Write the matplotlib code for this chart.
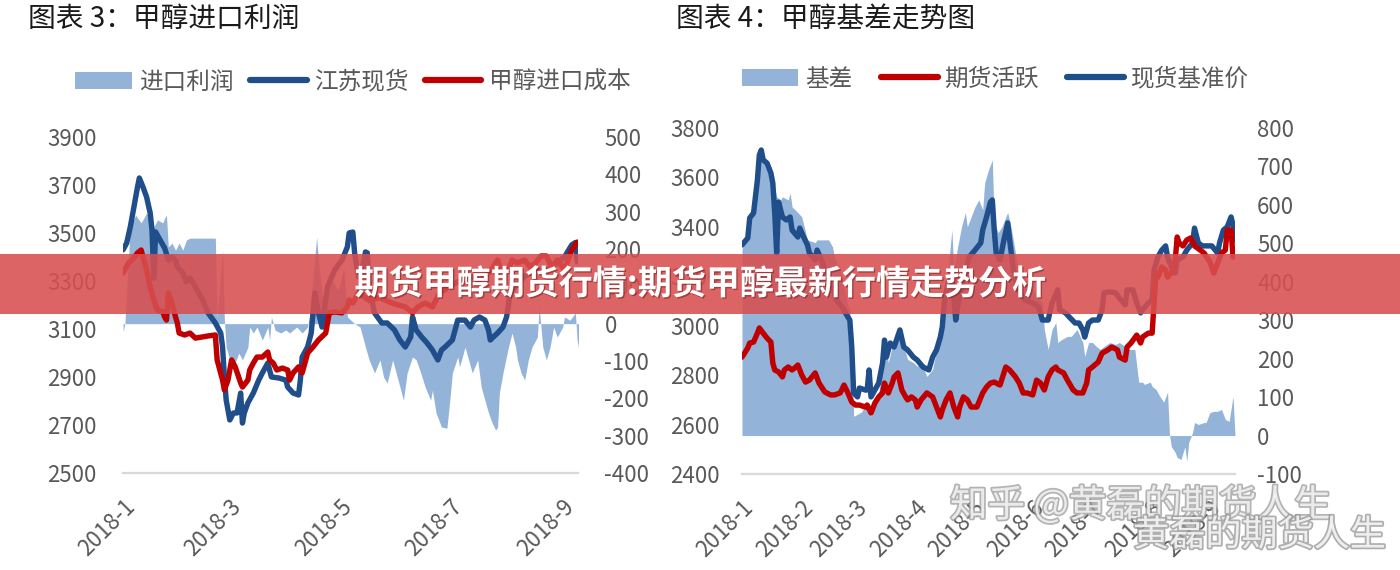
"""
Methanol import profit (chart 3) and methanol basis (chart 4), 2018.
Two dual-axis panels with an overlaid headline banner, saved to out.png.
"""

import matplotlib.patheffects as pe
import matplotlib.pyplot as plt
import numpy as np
import pandas as pd
from matplotlib.lines import Line2D
from matplotlib.patches import Patch, Rectangle

plt.rcParams["font.family"] = ["Noto Sans CJK SC", "DejaVu Sans"]
plt.rcParams["axes.unicode_minus"] = False

BASE = pd.Timestamp("2018-01-01")

# ---- chart 3: import profit (right axis) vs Jiangsu spot / import cost (left axis)
profit_days = [0, 1, 4, 7, 8, 10, 13, 15, 17, 19, 22, 23, 24, 25, 27, 29, 31, 33, 35, 37,
               38, 44, 51, 52, 55, 56, 57, 59, 61, 64, 66, 69, 70, 72, 74, 77, 80, 81, 82, 84,
               87, 90, 92, 96, 99, 102, 103, 105, 107, 108, 110, 112, 115, 119, 122, 124, 128, 131, 134, 136,
               139, 142, 144, 146, 149, 152, 155, 157, 160, 162, 164, 167, 170, 171, 173, 176, 179, 181, 182, 185,
               186, 189, 191, 193, 196, 198, 200, 202, 204, 206, 207, 208, 210, 213, 215, 217, 218, 220, 222, 224,
               226, 229, 230, 232, 234, 236, 238, 240, 243, 244, 247, 250, 251, 252]
import_profit = [-22, 0, 259, 291, 283, 270, 296, 286, 259, 278, 270, 283, 291, 205, 216, 197, 216, 197, 224, 229,
                 229, 229, 229, 18, 197, 9, -63, -97, -116, -79, -97, -63, -9, -25, -9, -44, -9, -44, 18, -17,
                 -25, -17, -25, -9, -25, -9, 18, 125, 232, 170, 82, 60, 120, 90, 150, 18, 0, -9, -63, -97,
                 -132, -97, -143, -159, -97, -151, -205, -132, -89, -97, -124, -170, -205, -178, -239, -277, -280, -186, -132, -89,
                 -116, -63, -97, -132, -97, -170, -205, -239, -266, -285, -277, -186, -132, -63, -25, -63, -97, -132, -151, -97,
                 -63, -36, 45, -63, -97, -63, -9, -36, -9, 18, 9, 29, -44, -70]

spot_js_days = [0, 2, 4, 6, 8, 9, 11, 13, 15, 16, 17, 18, 22, 23, 25, 27, 29, 30, 33, 35,
                37, 40, 44, 47, 51, 54, 55, 56, 57, 59, 61, 63, 65, 66, 67, 69, 72, 75, 77, 80,
                82, 86, 90, 91, 94, 97, 98, 99, 102, 104, 106, 108, 110, 112, 113, 117, 121, 124, 125, 127,
                128, 130, 132, 134, 135, 136, 139, 143, 146, 150, 153, 156, 159, 160, 162, 165, 168, 171, 174, 176,
                178, 182, 185, 189, 192, 194, 197, 200, 202, 203, 204, 207, 210, 212, 214, 217, 222, 228, 233, 239,
                244, 248, 250, 251]
spot_js = [3430, 3458, 3525, 3608, 3692, 3729, 3692, 3650, 3583, 3512, 3312, 3504, 3450, 3437, 3387, 3400, 3387, 3358, 3333, 3296,
           3312, 3275, 3221, 3167, 3125, 3083, 3025, 2900, 2804, 2721, 2750, 2750, 2833, 2708, 2750, 2792, 2833, 2887, 2917, 2958,
           2900, 2896, 2887, 2858, 2833, 2825, 2887, 2983, 3025, 3083, 3250, 3167, 3108, 3221, 3275, 3346, 3387, 3442, 3500, 3504,
           3417, 3317, 3346, 3421, 3417, 3275, 3167, 3125, 3125, 3096, 3054, 3025, 3067, 3150, 3096, 3067, 3042, 3012, 2971, 3012,
           3025, 3054, 3137, 3137, 3108, 3137, 3150, 3137, 3096, 3054, 3062, 3083, 3108, 3150, 3250, 3280, 3320, 3350, 3340, 3370,
           3400, 3450, 3460, 3380]

cost_days = [0, 1, 3, 6, 8, 10, 11, 13, 15, 17, 19, 22, 23, 24, 25, 27, 29, 30, 31, 34,
             37, 40, 44, 47, 51, 52, 55, 56, 58, 60, 62, 65, 66, 69, 70, 72, 74, 77, 80, 81,
             83, 85, 88, 91, 92, 94, 97, 99, 101, 102, 105, 108, 112, 114, 117, 121, 124, 125, 127, 130,
             132, 136, 142, 148, 152, 156, 160, 163, 167, 171, 175, 181, 186, 192, 197, 203, 207, 209, 213, 215,
             218, 222, 225, 228, 231, 234, 237, 240, 244, 248, 251]
import_cost = [3333, 3346, 3375, 3396, 3417, 3429, 3400, 3346, 3275, 3221, 3179, 3171, 3150, 3137, 3250, 3208, 3150, 3125, 3083, 3075,
               3083, 3062, 3067, 3071, 3075, 2971, 2887, 2846, 2887, 2971, 2942, 2875, 2858, 2887, 2929, 2958, 2983, 2983, 3004, 2971,
               2958, 2929, 2937, 2929, 2887, 2917, 2942, 2917, 2971, 3000, 3025, 3054, 3083, 3167, 3171, 3167, 3192, 3221, 3208, 3250,
               3240, 3220, 3230, 3210, 3200, 3192, 3167, 3192, 3208, 3192, 3250, 3280, 3300, 3320, 3300, 3340, 3387, 3346, 3346, 3387,
               3375, 3387, 3358, 3375, 3404, 3404, 3358, 3387, 3346, 3429, 3462]

# ---- chart 4: basis (right axis) vs futures / spot benchmark (left axis)
basis_days = [0, 4, 8, 10, 13, 16, 18, 20, 21, 24, 25, 26, 29, 31, 34, 38, 39, 42, 45, 47,
              48, 51, 53, 55, 56, 57, 58, 62, 65, 67, 69, 71, 73, 74, 76, 78, 80, 82, 84, 86,
              89, 91, 93, 96, 99, 100, 102, 104, 106, 109, 110, 112, 114, 116, 117, 119, 121, 123, 125, 126,
              128, 130, 131, 133, 135, 137, 138, 140, 142, 143, 145, 148, 151, 153, 156, 157, 159, 161, 163, 164,
              166, 169, 171, 174, 177, 178, 180, 182, 184, 186, 188, 191, 194, 196, 199, 201, 204, 206, 208, 209,
              212, 213, 215, 217, 219, 221, 222, 223, 225, 226, 228, 230, 231, 232, 234, 235, 237, 240, 241, 243,
              245, 247, 249, 251, 253, 255, 256]
basis = [484, 561, 657, 730, 699, 665, 621, 613, 621, 613, 631, 595, 580, 569, 509, 502, 509, 509, 509, 491,
         465, 432, 388, 336, 328, 200, 50, 61, 87, 50, 76, 113, 172, 242, 190, 232, 242, 258, 232, 198,
         190, 180, 190, 154, 172, 198, 232, 276, 380, 535, 432, 491, 543, 580, 543, 569, 595, 613, 587, 657,
         691, 717, 553, 528, 543, 569, 580, 535, 476, 450, 432, 398, 380, 362, 346, 276, 224, 276, 294, 242,
         250, 258, 258, 276, 242, 206, 242, 242, 232, 224, 232, 242, 237, 242, 232, 224, 224, 139, 139, 133,
         139, 128, 120, 102, 87, 113, 2, -29, -44, -57, -62, -29, -67, -18, 8, 34, 29, 34, 34, 60,
         63, 63, 68, 42, 37, 102, 2]

futures_days = [0, 3, 4, 6, 8, 9, 11, 13, 15, 16, 17, 19, 21, 22, 24, 26, 28, 29, 31, 33,
                35, 38, 40, 43, 46, 48, 51, 53, 55, 57, 59, 61, 64, 65, 67, 69, 71, 73, 74, 76,
                78, 79, 81, 83, 85, 86, 88, 90, 91, 93, 96, 99, 101, 103, 104, 106, 108, 110, 112, 113,
                115, 117, 119, 122, 125, 127, 129, 131, 134, 137, 139, 142, 144, 146, 148, 151, 153, 155, 157, 159,
                161, 163, 164, 167, 169, 172, 174, 177, 179, 180, 182, 185, 187, 190, 192, 195, 196, 199, 200, 202,
                205, 207, 208, 211, 213, 215, 216, 218, 220, 221, 223, 225, 226, 227, 229, 231, 233, 235, 238, 240,
                243, 245, 247, 249, 251, 252, 254, 255, 256]
futures = [2873, 2910, 2930, 2934, 2970, 2991, 2970, 2950, 2934, 2849, 2821, 2813, 2793, 2821, 2833, 2821, 2833, 2841, 2801, 2772,
           2780, 2809, 2768, 2732, 2720, 2720, 2728, 2760, 2728, 2691, 2679, 2679, 2671, 2679, 2647, 2687, 2712, 2728, 2768, 2728,
           2768, 2793, 2809, 2740, 2712, 2700, 2712, 2700, 2671, 2700, 2728, 2712, 2671, 2631, 2659, 2700, 2728, 2671, 2631, 2671,
           2712, 2700, 2671, 2671, 2728, 2752, 2768, 2772, 2760, 2833, 2821, 2793, 2768, 2728, 2728, 2720, 2780, 2768, 2740, 2793,
           2821, 2833, 2821, 2809, 2780, 2740, 2728, 2728, 2768, 2821, 2833, 2853, 2889, 2902, 2914, 2902, 2873, 2861, 2914, 2930,
           2962, 2930, 2954, 2970, 2970, 3213, 3197, 3238, 3225, 3197, 3213, 3266, 3359, 3335, 3323, 3347, 3355, 3323, 3306, 3294,
           3258, 3213, 3254, 3294, 3306, 3387, 3387, 3278, 3278]

spot_ref_days = [0, 3, 4, 6, 8, 9, 10, 11, 13, 15, 16, 17, 18, 19, 21, 23, 25, 26, 29, 30,
                 32, 34, 35, 38, 39, 42, 44, 47, 49, 52, 55, 56, 57, 58, 60, 61, 64, 65, 66, 67,
                 69, 71, 73, 74, 75, 77, 79, 82, 84, 86, 89, 91, 94, 97, 99, 101, 103, 104, 105, 107,
                 109, 111, 112, 116, 118, 121, 124, 125, 127, 129, 130, 131, 132, 134, 136, 138, 139, 141, 143, 147,
                 151, 154, 156, 159, 161, 164, 165, 168, 170, 173, 175, 177, 178, 180, 182, 185, 187, 188, 191, 194,
                 196, 199, 200, 203, 205, 207, 208, 211, 213, 214, 216, 218, 220, 221, 223, 225, 226, 229, 231, 234,
                 235, 237, 239, 241, 244, 247, 248, 250, 252, 254, 255, 256]
spot_ref = [3327, 3355, 3436, 3456, 3590, 3691, 3711, 3671, 3658, 3618, 3577, 3456, 3294, 3500, 3440, 3428, 3440, 3387, 3359, 3395,
            3359, 3327, 3294, 3266, 3306, 3254, 3197, 3157, 3104, 3076, 3035, 3023, 2914, 2728, 2712, 2748, 2740, 2740, 2821, 2712,
            2740, 2768, 2849, 2942, 2873, 2930, 2914, 2983, 2914, 2902, 2873, 2861, 2833, 2821, 2873, 2902, 2954, 2995, 3092, 3173,
            3213, 3023, 3076, 3225, 3278, 3306, 3335, 3387, 3440, 3500, 3509, 3387, 3294, 3266, 3347, 3416, 3347, 3225, 3157, 3104,
            3092, 3076, 3023, 3023, 3092, 3145, 3064, 3052, 3035, 3011, 3011, 2983, 2954, 3011, 3023, 3023, 3064, 3133, 3137, 3133,
            3112, 3084, 3145, 3145, 3092, 3052, 3064, 3092, 3104, 3225, 3278, 3306, 3323, 3278, 3238, 3213, 3266, 3278, 3306, 3335,
            3395, 3335, 3323, 3323, 3323, 3294, 3335, 3387, 3400, 3440, 3408, 3347]

ticks_3 = ["2018-01-01", "2018-03-01", "2018-05-01", "2018-07-01", "2018-09-01"]
labels_3 = ["2018-1", "2018-3", "2018-5", "2018-7", "2018-9"]
ticks_4 = [f"2018-{m:02d}-01" for m in range(1, 10)]
labels_4 = [f"2018-{m}" for m in range(1, 10)]

AREA = "#93b3d8"
NAVY = "#1f4e8a"
RED = "#c00000"
GREY = "#595959"
TICK_FS = 16


def to_dates(days):
    return (BASE + pd.to_timedelta(np.asarray(days), unit="D")).to_numpy()


def draw_panel(fig, rect, area, lines, left_lim, right_lim, right_step, ticks, labels, last_day, pads):
    """One dual-axis panel: filled area on the right axis, lines on the left axis."""
    ax = fig.add_axes(rect)
    axr = ax.twinx()
    # lines above the area
    ax.set_zorder(axr.get_zorder() + 1)
    ax.patch.set_visible(False)

    days, values = area
    axr.fill_between(to_dates(days), 0, values, color=AREA, lw=0)
    for d, v, c in lines:
        ax.plot(to_dates(d), v, color=c, lw=3.9, solid_joinstyle="round", solid_capstyle="round")

    ax.set_ylim(*left_lim)
    ax.set_yticks(np.arange(left_lim[0], left_lim[1] + 1, 200))
    axr.set_ylim(*right_lim)
    axr.set_yticks(np.arange(right_lim[0], right_lim[1] + 1, right_step))
    ax.set_xlim(BASE, BASE + pd.Timedelta(days=last_day))
    ax.set_xticks(pd.to_datetime(ticks))
    ax.set_xticklabels(labels, rotation=45, ha="right", va="top", rotation_mode="anchor")

    for a in (ax, axr):
        for side in ("top", "left", "right", "bottom"):
            a.spines[side].set_visible(False)
    ax.spines["bottom"].set_visible(True)
    ax.spines["bottom"].set_color("#d9d9d9")
    ax.spines["bottom"].set_linewidth(1.6)

    ax.tick_params(axis="y", length=0, pad=pads[0], labelsize=TICK_FS, labelcolor=GREY)
    axr.tick_params(axis="y", length=0, pad=pads[1], labelsize=TICK_FS, labelcolor=GREY)
    ax.tick_params(axis="x", length=0, pad=pads[2], labelsize=TICK_FS, labelcolor=GREY)
    return ax


def legend_handles(kinds):
    out = []
    for kind, color in kinds:
        if kind == "area":
            out.append(Patch(facecolor=color, edgecolor="none"))
        else:
            out.append(Line2D([], [], color=color, lw=4.5, solid_capstyle="round"))
    return out


def main():
    fig = plt.figure(figsize=(14, 5.7), dpi=100)

    # Chart 3
    draw_panel(
        fig, [0.0879, 0.1702, 0.3250, 0.5895],
        (profit_days, import_profit),
        [(spot_js_days, spot_js, NAVY), (cost_days, import_cost, RED)],
        (2500, 3900), (-400, 500), 100, ticks_3, labels_3, 251.5, (19, 19, 16),
    )
    fig.text(0.020, 0.966, "图表 3：甲醇进口利润", fontsize=20, fontweight="medium",
             color="#1a1a1a", va="center")
    fig.legend(
        legend_handles([("area", AREA), ("line", NAVY), ("line", RED)]),
        ["进口利润", "江苏现货", "甲醇进口成本"],
        loc="center", bbox_to_anchor=(0.252, 0.856), ncol=3, frameon=False,
        fontsize=17, handlelength=2.4, handletextpad=0.3, columnspacing=0.7, labelcolor=GREY,
    )

    # Chart 4
    draw_panel(
        fig, [0.5300, 0.1684, 0.3521, 0.6070],
        (basis_days, basis),
        [(spot_ref_days, spot_ref, NAVY), (futures_days, futures, RED)],
        (2400, 3800), (-100, 800), 100, ticks_4, labels_4, 256.0, (16, 16, 16),
    )
    fig.text(0.483, 0.966, "图表 4：甲醇基差走势图", fontsize=20, fontweight="medium",
             color="#1a1a1a", va="center")
    fig.legend(
        legend_handles([("area", AREA), ("line", RED), ("line", NAVY)]),
        ["基差", "期货活跃", "现货基准价"],
        loc="center", bbox_to_anchor=(0.711, 0.861), ncol=3, frameon=False,
        fontsize=17, handlelength=2.4, handletextpad=0.3, columnspacing=1.2, labelcolor=GREY,
    )

    # Headline banner across both panels
    banner = Rectangle((0, 0.449), 1, 0.106, transform=fig.transFigure,
                       facecolor="#d84f4f", alpha=0.88, edgecolor="none", zorder=10)
    fig.add_artist(banner)
    fig.text(0.5, 0.502, "期货甲醇期货行情:期货甲醇最新行情走势分析", fontsize=24.5, fontweight="heavy",
             color="white", ha="center", va="center", zorder=11,
             path_effects=[pe.withSimplePatchShadow(offset=(1, -1), shadow_rgbFace="#6b1a1a", alpha=0.5)])

    # Watermarks
    wm = [pe.withStroke(linewidth=2.5, foreground="#9a9a9a")]
    fig.text(0.6786, 0.112, "知乎 @黄磊的期货人生", fontsize=27, color="white", alpha=0.75,
             ha="left", va="center", zorder=12, path_effects=wm)
    fig.text(0.990, 0.060, "黄磊的期货人生", fontsize=26, color="white", alpha=0.8,
             ha="right", va="center", zorder=12, path_effects=wm)

    fig.savefig("out.png", dpi=100)


if __name__ == "__main__":
    main()
